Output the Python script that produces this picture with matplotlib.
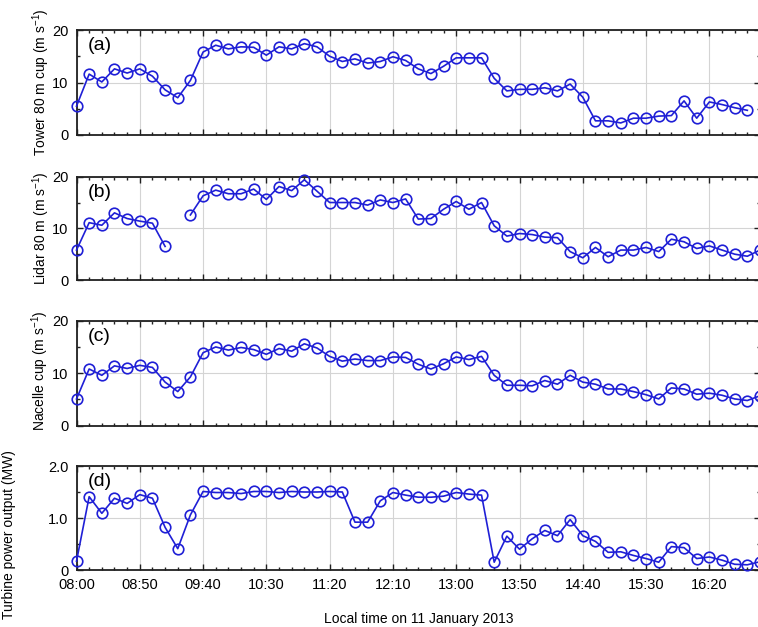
import numpy as np
import matplotlib
matplotlib.use("Agg")
import matplotlib.pyplot as plt
from matplotlib.ticker import FixedLocator, MultipleLocator

plt.rcParams['font.family'] = ['Liberation Sans', 'DejaVu Sans']
plt.rcParams['mathtext.default'] = 'regular'

# ---- data (10-minute samples, 08:00 .. 17:00) ----
times = ['08:00', '08:10', '08:20', '08:30', '08:40', '08:50', '09:00', '09:10', '09:20', '09:30',
         '09:40', '09:50', '10:00', '10:10', '10:20', '10:30', '10:40', '10:50', '11:00', '11:10',
         '11:20', '11:30', '11:40', '11:50', '12:00', '12:10', '12:20', '12:30', '12:40', '12:50',
         '13:00', '13:10', '13:20', '13:30', '13:40', '13:50', '14:00', '14:10', '14:20', '14:30',
         '14:40', '14:50', '15:00', '15:10', '15:20', '15:30', '15:40', '15:50', '16:00', '16:10',
         '16:20', '16:30', '16:40', '16:50', '17:00']

tower_cup = [5.5, 11.6, 10.1, 12.6, 11.8, 12.6, 11.2, 8.6, 7.1, 10.4,
             15.8, 17.1, 16.4, 16.8, 16.7, 15.2, 16.8, 16.4, 17.4, 16.8,
             15.0, 14.0, 14.5, 13.7, 14.0, 14.9, 14.2, 12.6, 11.7, 13.1,
             14.7, 14.7, 14.7, 10.8, 8.4, 8.7, 8.7, 9.0, 8.4, 9.7,
             7.2, 2.7, 2.7, 2.3, 3.2, 3.2, 3.6, 3.7, 6.5, 3.2,
             6.3, 5.8, 5.2, 4.7, np.nan]

lidar = [5.8, 11.1, 10.6, 13.0, 11.9, 11.4, 11.0, 6.5, np.nan, 12.6,
         16.3, 17.4, 16.7, 16.7, 17.6, 15.6, 18.1, 17.3, 19.4, 17.2,
         15.0, 15.0, 15.0, 14.5, 15.5, 15.0, 15.7, 11.8, 11.9, 13.7,
         15.2, 13.7, 15.0, 10.5, 8.5, 9.0, 8.8, 8.3, 8.2, 5.5,
         4.3, 6.3, 4.5, 5.8, 5.8, 6.3, 5.5, 7.9, 7.4, 6.1,
         6.6, 5.8, 5.0, 4.6, 5.8]

nacelle = [5.1, 10.8, 9.6, 11.4, 10.9, 11.5, 11.1, 8.3, 6.5, 9.3,
           13.9, 15.0, 14.4, 14.9, 14.5, 13.6, 14.7, 14.2, 15.6, 14.8,
           13.2, 12.3, 12.7, 12.4, 12.4, 13.1, 13.0, 11.7, 10.8, 11.8,
           13.1, 12.6, 13.2, 9.6, 7.7, 7.7, 7.6, 8.6, 7.9, 9.6,
           8.3, 7.9, 7.0, 7.0, 6.5, 5.9, 5.1, 7.2, 7.0, 6.0,
           6.2, 5.8, 5.1, 4.8, 5.7]

power = [0.17, 1.41, 1.09, 1.38, 1.28, 1.45, 1.38, 0.82, 0.41, 1.06,
         1.51, 1.49, 1.49, 1.47, 1.51, 1.51, 1.49, 1.51, 1.50, 1.50,
         1.51, 1.50, 0.92, 0.92, 1.33, 1.49, 1.44, 1.40, 1.40, 1.42,
         1.49, 1.46, 1.44, 0.15, 0.65, 0.40, 0.60, 0.76, 0.66, 0.97,
         0.66, 0.55, 0.34, 0.35, 0.28, 0.22, 0.15, 0.45, 0.43, 0.22,
         0.25, 0.19, 0.11, 0.10, 0.16]

xtick_labels = ['08:00', '08:50', '09:40', '10:30', '11:20', '12:10',
                '13:00', '13:50', '14:40', '15:30', '16:20']

panel_tags = ['(a)', '(b)', '(c)', '(d)']
ylabels = ['Tower 80 m cup (m s$^{-1}$)', 'Lidar 80 m (m s$^{-1}$)',
           'Nacelle cup (m s$^{-1}$)', 'Turbine power output (MW)']


def to_min(s):
    h, m = s.split(':')
    return (int(h) - 8) * 60 + int(m)


x = np.array([to_min(t) for t in times], dtype=float)
xt = [to_min(t) for t in xtick_labels]

W, H = 758, 627
fig = plt.figure(figsize=(W / 100, H / 100), dpi=100)

left_px = 76.5
right_px = 760.0
boxes = [(30, 135), (176.7, 280), (320.7, 425.7), (466, 570)]
series = [tower_cup, lidar, nacelle, power]
color = '#1f1fd6'

for i, ((top, bot), y) in enumerate(zip(boxes, series)):
    ax = fig.add_axes([left_px / W, 1 - bot / H, (right_px - left_px) / W, (bot - top) / H])
    ax.plot(x, y, '-o', color=color, lw=1.2, ms=7.6, mfc='none', mec=color, mew=1.2,
            zorder=3, clip_on=False)
    ax.set_xlim(0, 540)
    if i < 3:
        ax.set_ylim(0, 20)
        ax.yaxis.set_major_locator(FixedLocator([0, 10, 20]))
        ax.yaxis.set_minor_locator(FixedLocator([5, 15]))
        ax.set_yticklabels(['0', '10', '20'])
    else:
        ax.set_ylim(0, 2.0)
        ax.yaxis.set_major_locator(FixedLocator([0, 1.0, 2.0]))
        ax.yaxis.set_minor_locator(FixedLocator([0.5, 1.5]))
        ax.set_yticklabels(['0', '1.0', '2.0'])
    ax.xaxis.set_major_locator(FixedLocator(xt))
    ax.xaxis.set_minor_locator(MultipleLocator(10))
    if i == 3:
        ax.set_xticklabels(xtick_labels)
        ax.set_xlabel('Local time on 11 January 2013', fontsize=10, labelpad=14)
    else:
        ax.set_xticklabels([])
    ax.tick_params(which='both', direction='in', top=True, right=True, labelsize=10.5,
                   width=1.0, color='#202020')
    ax.tick_params(which='major', length=4.5, pad=6)
    ax.tick_params(which='minor', length=2.5)
    ax.grid(True, which='major', color='#d4d4d4', lw=0.8, zorder=0)
    ax.set_axisbelow(True)
    for sp in ax.spines.values():
        sp.set_linewidth(1.3)
        sp.set_color('#202020')
    ax.text(0.016, 0.93, panel_tags[i], transform=ax.transAxes, fontsize=14,
            ha='left', va='top', zorder=4)

label_pos = [(41, 82), (41, 228), (40, 371), (9, 535)]
for (lx, ly), lab in zip(label_pos, ylabels):
    fig.text(lx / W, 1 - ly / H, lab, rotation=90, ha='center', va='center', fontsize=10)

fig.savefig('out.png', dpi=100)
